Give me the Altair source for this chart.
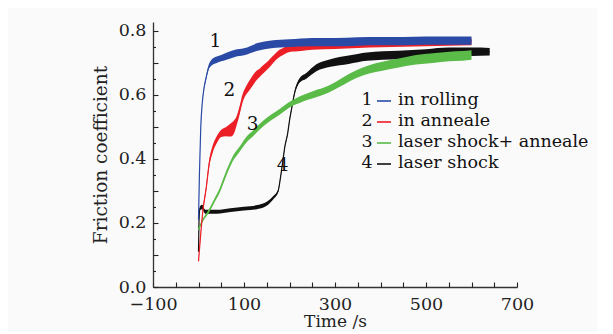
import altair as alt
import pandas as pd

# ---- data ----
blue_t = [0, 2, 5, 8, 12, 17, 22, 28, 40, 50, 60, 80, 100, 130, 160, 200, 250, 300, 350, 400, 450, 500, 550, 600]
blue_v = [0.21, 0.35, 0.50, 0.57, 0.62, 0.655, 0.685, 0.70, 0.71, 0.715, 0.72, 0.73, 0.735, 0.75, 0.758, 0.762, 0.765, 0.765, 0.767, 0.768, 0.768, 0.77, 0.77, 0.77]
blue_a = [0.003, 0.003, 0.003, 0.003, 0.004, 0.005, 0.007, 0.009, 0.010, 0.010, 0.011, 0.011, 0.011, 0.012, 0.012, 0.012, 0.013, 0.013, 0.013, 0.013, 0.013, 0.013, 0.013, 0.013]

red_t = [0, 4, 9, 17, 24, 31, 40, 50, 60, 70, 78, 84, 90, 97, 105, 112, 119, 127, 135, 142, 150, 160, 170, 178, 185, 200, 225, 250, 300, 350, 400, 450, 500, 550, 600]
red_v = [0.08, 0.15, 0.23, 0.31, 0.39, 0.43, 0.46, 0.48, 0.485, 0.49, 0.50, 0.52, 0.55, 0.59, 0.615, 0.63, 0.645, 0.66, 0.67, 0.68, 0.69, 0.705, 0.72, 0.73, 0.735, 0.745, 0.748, 0.752, 0.755, 0.758, 0.76, 0.762, 0.763, 0.765, 0.766]
red_a = [0.003, 0.004, 0.006, 0.008, 0.010, 0.011, 0.011, 0.011, 0.014, 0.020, 0.020, 0.014, 0.013, 0.013, 0.013, 0.015, 0.016, 0.015, 0.013, 0.013, 0.012, 0.012, 0.011, 0.011, 0.011, 0.011, 0.011, 0.011, 0.011, 0.011, 0.011, 0.011, 0.011, 0.011, 0.011]

green_t = [0, 10, 24, 35, 46, 61, 75, 90, 105, 120, 134, 150, 171, 190, 207, 222, 240, 260, 280, 295, 320, 347, 375, 404, 440, 478, 515, 551, 580, 600]
green_v = [0.18, 0.21, 0.24, 0.27, 0.30, 0.355, 0.40, 0.43, 0.46, 0.48, 0.50, 0.52, 0.54, 0.56, 0.575, 0.585, 0.595, 0.605, 0.615, 0.625, 0.645, 0.665, 0.68, 0.69, 0.70, 0.71, 0.715, 0.72, 0.722, 0.725]
green_a = [0.004, 0.004, 0.005, 0.006, 0.007, 0.008, 0.008, 0.008, 0.009, 0.009, 0.009, 0.009, 0.009, 0.009, 0.009, 0.010, 0.010, 0.011, 0.011, 0.011, 0.012, 0.012, 0.013, 0.014, 0.014, 0.015, 0.015, 0.015, 0.015, 0.015]

black_t = [0, 1, 3, 8, 15, 40, 70, 100, 130, 150, 165, 175, 180, 185, 190, 196, 200, 205, 211, 222, 237, 259, 290, 330, 370, 440, 500, 550, 600, 640]
black_v = [0.11, 0.20, 0.245, 0.25, 0.235, 0.235, 0.24, 0.245, 0.25, 0.26, 0.28, 0.30, 0.34, 0.39, 0.44, 0.48, 0.52, 0.56, 0.605, 0.645, 0.66, 0.685, 0.70, 0.71, 0.72, 0.725, 0.73, 0.735, 0.735, 0.735]
black_a = [0.003, 0.003, 0.006, 0.007, 0.006, 0.006, 0.006, 0.006, 0.006, 0.006, 0.005, 0.004, 0.003, 0.003, 0.003, 0.003, 0.003, 0.004, 0.005, 0.007, 0.009, 0.011, 0.012, 0.013, 0.013, 0.013, 0.013, 0.013, 0.013, 0.012]

series_names = ["in rolling", "in anneale", "laser shock+ anneale", "laser shock"]
series_nums = ["1", "2", "3", "4"]
series_colors = ["#2a4aa6", "#ec1f26", "#5bbb48", "#111111"]

curve_label_t = [37, 68, 119, 185]
curve_label_v = [0.77, 0.615, 0.51, 0.38]

x_ticks = list(range(-100, 701, 50))
y_major = [0.0, 0.1, 0.2, 0.3, 0.4, 0.5, 0.6, 0.7, 0.8]
y_minor = [0.05, 0.15, 0.25, 0.35, 0.45, 0.55, 0.65, 0.75]

W, H = 364, 265
FONT = "DejaVu Serif"
xs = alt.Scale(domain=[-100, 700], nice=False, zero=False)
ys = alt.Scale(domain=[0, 0.828], nice=False, zero=False)

series = [
    (blue_t, blue_v, blue_a, series_colors[0]),
    (red_t, red_v, red_a, series_colors[1]),
    (green_t, green_v, green_a, series_colors[2]),
    (black_t, black_v, black_a, series_colors[3]),
]

xaxis = alt.Axis(values=[-100, 100, 300, 500, 700], ticks=False, grid=False, labelFlush=False,
                 title="Time /s", labelFont=FONT, labelFontSize=17.5, labelColor="#222",
                 titleFont=FONT, titleFontSize=17, titleFontWeight="normal", titleColor="#222",
                 labelPadding=8, titlePadding=1, domainColor="#333", domainWidth=1.3)
yaxis = alt.Axis(values=[0, 0.2, 0.4, 0.6, 0.8], format=".1f", ticks=False, grid=False, labelFlush=False,
                 title="Friction coefficient", labelFont=FONT, labelFontSize=17.5, labelColor="#222",
                 titleFont=FONT, titleFontSize=18.5, titleFontWeight="normal", titleColor="#222",
                 labelPadding=7, titlePadding=8, domainColor="#333", domainWidth=1.3)

main_layers = []
# draw order: black, green, red, blue (blue on top)
for idx in [3, 2, 1, 0]:
    t, v, a, col = series[idx]
    df = pd.DataFrame({"t": t, "v": v, "a": a})
    df["lo"] = df["v"] - df["a"]
    df["hi"] = df["v"] + df["a"]
    base = alt.Chart(df)
    band = base.mark_area(color=col, opacity=1, interpolate="monotone").encode(
        x=alt.X("t:Q", scale=xs, axis=xaxis),
        y=alt.Y("lo:Q", scale=ys, axis=yaxis),
        y2="hi:Q",
    )
    line = base.mark_line(color=col, strokeWidth=1.2, interpolate="monotone").encode(
        x=alt.X("t:Q", scale=xs, axis=xaxis),
        y=alt.Y("v:Q", scale=ys, axis=yaxis),
    )
    main_layers += [band, line]

# curve number labels
lab = alt.Chart(pd.DataFrame({"t": curve_label_t, "v": curve_label_v, "n": series_nums})).mark_text(
    font=FONT, fontSize=18.5, color="#111", align="center", baseline="middle").encode(
    x=alt.X("t:Q", scale=xs, axis=xaxis), y=alt.Y("v:Q", scale=ys, axis=yaxis), text="n:N")
main_layers.append(lab)

# legend (numbers, dashes, names)
one = pd.DataFrame({"k": [0]})
for i in range(4):
    yy = 78 + i * 21
    main_layers.append(alt.Chart(one).mark_text(font=FONT, fontSize=17.5, color="#111", align="center",
                                                baseline="middle").encode(
        x=alt.value(214), y=alt.value(yy), text=alt.value(series_nums[i])))
    main_layers.append(alt.Chart(one).mark_rule(color=series_colors[i], strokeWidth=1.6).encode(
        x=alt.value(224), x2=alt.value(238), y=alt.value(yy + 1)))
    main_layers.append(alt.Chart(one).mark_text(font=FONT, fontSize=17.5, color="#111", align="left",
                                                baseline="middle").encode(
        x=alt.value(245), y=alt.value(yy), text=alt.value(series_names[i])))

main = alt.layer(*main_layers)

# inward ticks: extra axes (no labels/domain) moved onto the opposite edge
tick_style = dict(labels=False, domain=False, grid=False, title=None, ticks=True,
                  tickColor="#222", tickWidth=1.1)
xt = alt.Chart(pd.DataFrame({"tt": x_ticks})).mark_point(opacity=0).encode(
    x=alt.X("tt:Q", scale=xs,
            axis=alt.Axis(orient="top", offset=-H, values=x_ticks, tickSize=5, **tick_style)))
ytmaj = alt.Chart(pd.DataFrame({"vv": y_major})).mark_point(opacity=0).encode(
    y=alt.Y("vv:Q", scale=ys,
            axis=alt.Axis(orient="right", offset=-W, values=y_major, tickSize=5, **tick_style)))
ytmin = alt.Chart(pd.DataFrame({"vm": y_minor})).mark_point(opacity=0).encode(
    y=alt.Y("vm:Q", scale=ys,
            axis=alt.Axis(orient="right", offset=-W, values=y_minor, tickSize=2.5, **tick_style)))

chart = alt.layer(main, xt, ytmaj, ytmin).resolve_axis(x="independent", y="independent").properties(
    width=W, height=H,
    autosize=alt.AutoSizeParams(type="none"),
    padding={"left": 145, "top": 14, "right": 80, "bottom": 45},
    background="#fafafa",
).configure_view(stroke=None)

chart.save("out.html", embed_options={"renderer": "svg", "actions": False})
